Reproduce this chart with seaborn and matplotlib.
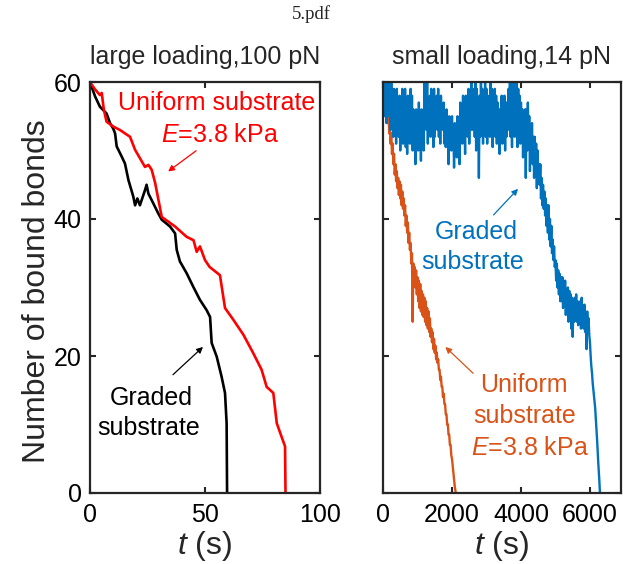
import numpy as np
import pandas as pd
import matplotlib
matplotlib.use("Agg")
import matplotlib.pyplot as plt
import seaborn as sns

# ---------------- data ----------------
# Left panel: large loading, 100 pN
t_red = [0, 2, 4.3, 5.1, 6, 7.2, 10.1, 13, 17.4, 19.6, 23.9, 25.4, 26.8, 28.3,
         31.2, 37, 42, 45, 46.4, 47.8, 50, 52, 56.5, 58.7, 62.3, 66.7, 71,
         74.6, 76.8, 79.7, 81.2, 83.3, 84.8, 85]
n_red = [60, 59, 58.1, 58.4, 56, 54.2, 53.5, 53, 52, 50.1, 47.6, 47.9, 47.2, 45.3,
         40.3, 38.9, 37.4, 36.9, 35.2, 36, 34, 33, 31.8, 27, 25.3, 23.1, 20.4,
         18, 15.5, 14.6, 10.2, 8.2, 6.8, 0]

t_black = [0, 2.2, 4.3, 7.2, 8.7, 10.1, 10.9, 11.6, 13.8, 15.2, 16.7, 18.8, 19.6,
           20.6, 21.7, 23.9, 24.6, 25.4, 27.5, 29.7, 31.2, 34.8, 37, 37.7, 39.1,
           42, 44.9, 47.8, 50.7, 52.2, 52.9, 55.1, 57.2, 58.7, 59.4, 59.6]
n_black = [60, 57.9, 56.4, 55.4, 54, 53.2, 52.5, 50.6, 49.1, 48.1, 45.7, 43.3, 42,
           43, 42, 44.2, 45, 43.7, 42.3, 40.8, 39.9, 38.9, 37.9, 35.5, 33.8,
           32.1, 30.1, 28.2, 26.7, 25.7, 21.9, 19.9, 17, 14.6, 10.2, 0]

# Right panel: small loading, 14 pN
t_blue = [
    0, 20, 40, 60, 80, 100, 120, 140, 160, 180,
    200, 220, 240, 260, 280, 300, 320, 340, 360, 380,
    400, 420, 440, 460, 480, 500, 520, 540, 560, 580,
    600, 620, 640, 660, 680, 700, 720, 740, 760, 780,
    800, 820, 840, 860, 880, 900, 920, 940, 960, 980,
    1000, 1020, 1040, 1060, 1080, 1100, 1120, 1140, 1160, 1180,
    1200, 1220, 1240, 1260, 1280, 1300, 1320, 1340, 1360, 1380,
    1400, 1420, 1440, 1460, 1480, 1500, 1520, 1540, 1560, 1580,
    1600, 1620, 1640, 1660, 1680, 1700, 1720, 1740, 1760, 1780,
    1800, 1820, 1840, 1860, 1880, 1900, 1920, 1940, 1960, 1980,
    2000, 2020, 2040, 2060, 2080, 2100, 2120, 2140, 2160, 2180,
    2200, 2220, 2240, 2260, 2280, 2300, 2320, 2340, 2360, 2380,
    2400, 2420, 2440, 2460, 2480, 2500, 2520, 2540, 2560, 2580,
    2600, 2620, 2640, 2660, 2680, 2700, 2720, 2740, 2760, 2780,
    2800, 2820, 2840, 2860, 2880, 2900, 2920, 2940, 2960, 2980,
    3000, 3020, 3040, 3060, 3080, 3100, 3120, 3140, 3160, 3180,
    3200, 3220, 3240, 3260, 3280, 3300, 3320, 3340, 3360, 3380,
    3400, 3420, 3440, 3460, 3480, 3500, 3520, 3540, 3560, 3580,
    3600, 3620, 3640, 3660, 3680, 3700, 3720, 3740, 3760, 3780,
    3800, 3820, 3840, 3860, 3880, 3900, 3920, 3940, 3960, 3980,
    4000, 4020, 4040, 4060, 4080, 4100, 4120, 4140, 4160, 4180,
    4200, 4220, 4240, 4260, 4280, 4300, 4320, 4340, 4360, 4380,
    4400, 4420, 4440, 4460, 4480, 4500, 4520, 4540, 4560, 4580,
    4600, 4620, 4640, 4660, 4680, 4700, 4720, 4740, 4760, 4780,
    4800, 4820, 4840, 4860, 4880, 4900, 4920, 4940, 4960, 4980,
    5000, 5020, 5040, 5060, 5080, 5100, 5120, 5140, 5160, 5180,
    5200, 5220, 5240, 5260, 5280, 5300, 5320, 5340, 5360, 5380,
    5400, 5420, 5440, 5460, 5480, 5500, 5520, 5540, 5560, 5580,
    5600, 5620, 5640, 5660, 5680, 5700, 5720, 5740, 5760, 5780,
    5800, 5820, 5840, 5860, 5880, 5900, 5920, 5940, 5960, 5980,
    6000, 6020, 6040, 6060, 6080, 6100, 6120, 6150, 6180, 6210,
    6240, 6270, 6290]
n_blue = [
    60, 57, 59, 55, 60, 54, 58, 56, 60, 55,
    59, 53, 60, 54, 57, 52, 59, 55, 58, 51,
    59, 53, 57, 52, 58, 50, 56, 54, 59, 51,
    58, 53, 59, 50.5, 57, 49.5, 58, 53, 56, 51,
    59, 52, 58, 50, 56, 54, 55, 48, 56, 51,
    55, 50, 57, 52, 54, 48.5, 56, 51, 54, 50,
    60, 54, 59, 53, 60, 51, 57, 53, 58, 52,
    59, 54, 58, 50.5, 59, 52, 57, 54, 58, 53,
    59, 52, 57, 51, 58, 54, 56, 53, 57, 51,
    55, 50.5, 56, 51, 54, 48, 55, 52, 54, 50,
    55, 51, 53, 47.5, 54, 50, 53, 49, 55, 51,
    54, 48, 57, 53, 56, 51, 58, 52, 55, 49.5,
    58, 54, 57, 52, 59, 51, 57, 55, 60, 53,
    58, 54, 59, 52, 60, 50, 59, 53, 57, 46,
    58, 52, 60, 54, 59, 51, 58, 53, 60, 52,
    59, 51, 57, 54, 58, 52, 60, 53, 59, 50.5,
    57, 53, 59, 52, 58, 51, 57, 54, 56, 49.5,
    56, 52, 58, 51, 57, 53, 58, 50, 57, 52,
    57, 53, 59, 54, 60, 52, 58, 50.5, 60, 53,
    60, 52, 59, 54, 60, 50.5, 59, 53, 58, 51,
    57, 52, 56, 49, 55, 51, 56, 46, 56, 50,
    57, 51, 55, 47, 53, 50, 54, 48, 52, 46,
    52, 47, 51, 44.5, 50, 46, 48, 45, 48, 43,
    46, 42, 45, 41.5, 44, 40.5, 43, 39, 42, 38,
    42, 37, 40, 36, 39, 35, 37, 34, 36, 33,
    34, 31, 33.5, 30, 32.5, 29, 32, 28, 31.5, 28,
    31.5, 27, 30.5, 28, 31, 26, 29.5, 27, 30, 25,
    29.5, 26, 29, 24, 28.5, 22.8, 28, 25, 28.5, 26,
    29, 25, 28, 24.5, 27.5, 25.5, 28, 24, 28.5, 25,
    27, 24, 27.5, 23.5, 26, 21, 26.5, 24, 25.5, 23,
    22, 20, 18.5, 17.5, 16, 15, 14, 12.5, 10, 7.5,
    4.5, 2, 0]

t_orange = [
    0, 20, 40, 60, 80, 100, 120, 140, 160, 180,
    200, 220, 240, 260, 280, 300, 320, 340, 360, 380,
    400, 420, 440, 460, 480, 500, 520, 540, 560, 580,
    600, 620, 640, 660, 680, 700, 720, 740, 760, 780,
    800, 820, 840, 860, 880, 900, 920, 940, 960, 980,
    1000, 1020, 1040, 1060, 1080, 1100, 1120, 1140, 1160, 1180,
    1200, 1220, 1240, 1260, 1280, 1300, 1320, 1340, 1360, 1380,
    1400, 1420, 1440, 1460, 1480, 1500, 1520, 1540, 1560, 1580,
    1600, 1620, 1640, 1660, 1680, 1700, 1720, 1740, 1760, 1780,
    1800, 1820, 1840, 1860, 1880, 1900, 1920, 1940, 1960, 1980,
    2000, 2020, 2040, 2060, 2080, 2110]
n_orange = [
    60, 57.5, 59.5, 56.5, 58, 55, 57, 54, 55.5, 52.5,
    54, 51, 52.5, 49.5, 51, 48, 49.5, 46.5, 48, 45.5,
    47, 44.5, 46, 43.5, 45.5, 43, 45, 42, 44, 41.5,
    43, 40.5, 42, 39, 40.5, 38, 39.5, 36.5, 38, 35.5,
    36.5, 33.5, 35, 25, 33.5, 30.5, 33, 30, 32.5, 29,
    31.5, 28, 31, 27, 30.5, 26.5, 29.5, 26, 29, 25.7,
    28.5, 25, 28, 24.5, 27, 24, 26.5, 23.5, 25.5, 22.8,
    24, 22, 23.5, 21, 22.5, 20.5, 21.5, 19.5, 20.5, 19,
    19.5, 18, 18, 16.5, 17, 15.5, 15.5, 14, 14.5, 13,
    13, 11.5, 11.5, 10, 10, 8.5, 8.5, 7, 7, 5.5,
    5, 4, 3, 2, 1, 0]

left_xticks = [0, 50, 100]
right_xticks = [0, 2000, 4000, 6000]
yticks = [0, 20, 40, 60]

# ---------------- styling ----------------
sns.set_theme(style="ticks")
plt.rcParams["font.family"] = ["Liberation Sans", "DejaVu Sans"]
plt.rcParams["mathtext.fontset"] = "custom"
plt.rcParams["mathtext.rm"] = "Liberation Sans"
plt.rcParams["mathtext.it"] = "Liberation Sans:italic"

SPINE = "#262626"
RED = "#FF0000"
ORANGE = "#D95319"
BLUE = "#0072BD"
FS = 18

fig = plt.figure(figsize=(6.23, 5.64), dpi=100)
W, H = 623.0, 564.0
top, bottom = 82, 493
axL = fig.add_axes([90 / W, 1 - bottom / H, 230 / W, (bottom - top) / H])
axR = fig.add_axes([383 / W, 1 - bottom / H, 238 / W, (bottom - top) / H])

dfL = pd.concat([
    pd.DataFrame({"t": t_black, "n": n_black, "s": "Graded"}),
    pd.DataFrame({"t": t_red, "n": n_red, "s": "Uniform"}),
])
dfR = pd.concat([
    pd.DataFrame({"t": t_orange, "n": n_orange, "s": "Uniform"}),
    pd.DataFrame({"t": t_blue, "n": n_blue, "s": "Graded"}),
])

sns.lineplot(data=dfL, x="t", y="n", hue="s", palette={"Graded": "black", "Uniform": RED},
             estimator=None, sort=False, linewidth=1.9, legend=False, ax=axL)
sns.lineplot(data=dfR, x="t", y="n", hue="s", palette={"Graded": BLUE, "Uniform": ORANGE},
             estimator=None, sort=False, linewidth=1.7, legend=False, ax=axR)

for ax, xt, xl in [(axL, left_xticks, (0, 100)), (axR, right_xticks, (0, 6900))]:
    ax.set_xlim(*xl)
    ax.set_ylim(0, 60)
    ax.set_xticks(xt)
    ax.set_yticks(yticks)
    ax.tick_params(direction="in", top=True, right=True, length=4, width=1.5,
                   color=SPINE, labelsize=FS, labelcolor="black")
    ax.tick_params(axis="x", pad=7)
    ax.tick_params(axis="y", pad=6)
    for sp in ax.spines.values():
        sp.set_visible(True)
        sp.set_color(SPINE)
        sp.set_linewidth(1.6)
    ax.set_xlabel("$t$ (s)", fontsize=23)
    ax.xaxis.set_label_coords(0.5, -0.088)

axR.set_yticklabels([])
axR.set_ylabel("")
axL.set_ylabel("Number of bound bonds", fontsize=23)
axL.yaxis.set_label_coords(-0.165, 0.49)

axL.set_title("large loading,100 pN", fontsize=FS, pad=13)
axR.set_title("small loading,14 pN", fontsize=FS, pad=13)

fig.text(0.5, 1 - 14 / H, "5.pdf", ha="center", va="center", fontsize=13.5,
         family=["Liberation Serif", "DejaVu Serif"])

# annotations, left
axL.text(55, 56.9, "Uniform substrate", color=RED, fontsize=FS, ha="center", va="center")
axL.text(56.5, 52.3, "$E$=3.8 kPa", color=RED, fontsize=FS, ha="center", va="center")
axL.annotate("", xy=(33, 46.7), xytext=(47.1, 50.2),
             arrowprops=dict(arrowstyle="-|>", color=RED, lw=0.9, mutation_scale=9))
axL.text(26.5, 13.9, "Graded", color="black", fontsize=FS, ha="center", va="center")
axL.text(25.7, 9.5, "substrate", color="black", fontsize=FS, ha="center", va="center")
axL.annotate("", xy=(50, 21.6), xytext=(35.2, 17),
             arrowprops=dict(arrowstyle="-|>", color="black", lw=0.9, mutation_scale=9))

# annotations, right
axR.text(2700, 38.1, "Graded", color=BLUE, fontsize=FS, ha="center", va="center")
axR.text(2610, 33.7, "substrate", color=BLUE, fontsize=FS, ha="center", va="center")
axR.annotate("", xy=(3970, 44.7), xytext=(3150, 40.3),
             arrowprops=dict(arrowstyle="-|>", color=BLUE, lw=0.9, mutation_scale=9))
axR.text(4090, 15.8, "Uniform", color=ORANGE, fontsize=FS, ha="center", va="center")
axR.text(4120, 11.2, "substrate", color=ORANGE, fontsize=FS, ha="center", va="center")
axR.text(4270, 6.6, "$E$=3.8 kPa", color=ORANGE, fontsize=FS, ha="center", va="center")
axR.annotate("", xy=(1750, 21.6), xytext=(2670, 17.2),
             arrowprops=dict(arrowstyle="-|>", color=ORANGE, lw=0.9, mutation_scale=9))

fig.savefig("out.png", dpi=100)
